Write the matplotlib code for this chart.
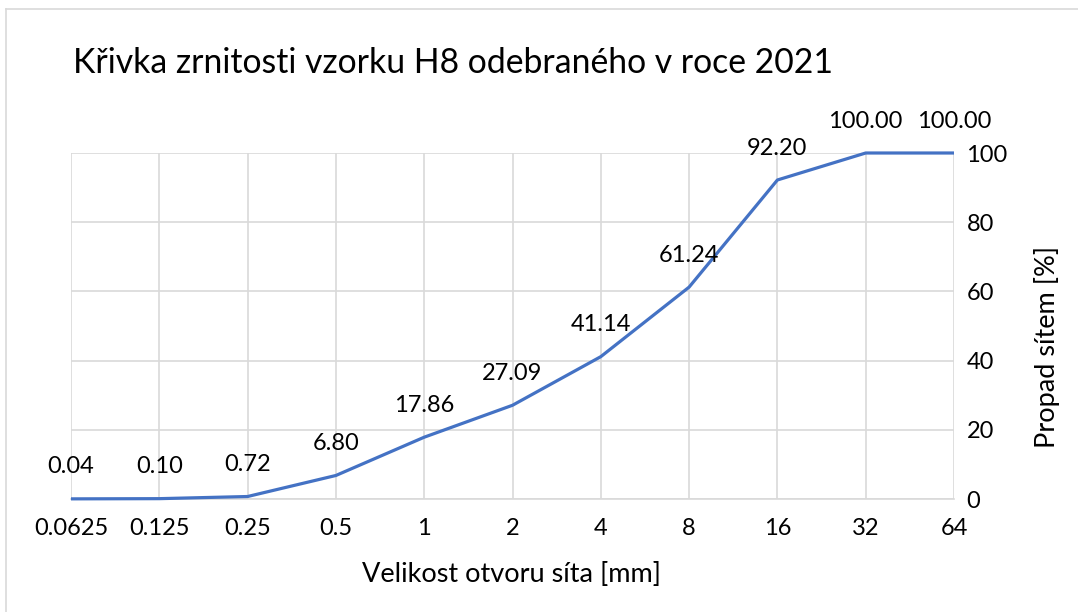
import matplotlib.pyplot as plt
from matplotlib.lines import Line2D

# sítový rozbor vzorku H8 (2021)
sieve_sizes = ['0.0625', '0.125', '0.25', '0.5', '1', '2', '4', '8', '16', '32', '64']
passing = [0.04, 0.10, 0.72, 6.80, 17.86, 27.09, 41.14, 61.24, 92.20, 100.00, 100.00]
y_ticks = [0, 20, 40, 60, 80, 100]

plt.rcParams['font.family'] = ['Lato', 'DejaVu Sans']
W, H = 1078, 612
fig = plt.figure(figsize=(W / 100, H / 100), dpi=100)

# plocha grafu v pixelech: x 71..954, y 153..499
ax = fig.add_axes([71 / W, 1 - 499 / H, (954 - 71) / W, (499 - 153) / H])

x = list(range(len(sieve_sizes)))
ax.plot(x, passing, color='#4472C4', lw=2.3, solid_capstyle='butt', clip_on=False, zorder=3)

for xi, v in zip(x, passing):
    ax.annotate('%.2f' % v, (xi, v), xytext=(0, 23), textcoords='offset points',
                ha='center', va='center', fontsize=17, color='#000000', annotation_clip=False)

ax.set_xlim(0, len(sieve_sizes) - 1)
ax.set_ylim(0, 100)
ax.set_xticks(x)
ax.set_xticklabels(sieve_sizes)
ax.set_yticks(y_ticks)
ax.yaxis.tick_right()
ax.tick_params(axis='both', length=0, labelsize=17, colors='#000000')
ax.tick_params(axis='x', pad=14)
ax.tick_params(axis='y', pad=9)
for lab in ax.get_yticklabels():
    lab.set_horizontalalignment('left')

ax.grid(True, color='#D9D9D9', lw=1.2)
ax.set_axisbelow(True)
for side in ['top', 'left', 'right']:
    ax.spines[side].set_visible(False)
ax.spines['bottom'].set_color('#D9D9D9')
ax.spines['bottom'].set_linewidth(1.2)

fig.text(73 / W, 1 - 63 / H, 'Křivka zrnitosti vzorku H8 odebraného v roce 2021',
         fontsize=24.3, ha='left', va='center')
fig.text(511 / W, 1 - 575 / H, 'Velikost otvoru síta [mm]', fontsize=19.5, ha='center', va='center')
fig.text(1047 / W, 1 - 347 / H, 'Propad sítem [%]', fontsize=19.5, rotation=90,
         ha='center', va='center')

# rámeček grafu
fig.add_artist(Line2D([6 / W, 6 / W], [0, 1 - 9 / H], color='#D9D9D9', lw=1.2))
fig.add_artist(Line2D([6 / W, 1], [1 - 9 / H, 1 - 9 / H], color='#D9D9D9', lw=1.2))

fig.savefig('out.png', dpi=100)
